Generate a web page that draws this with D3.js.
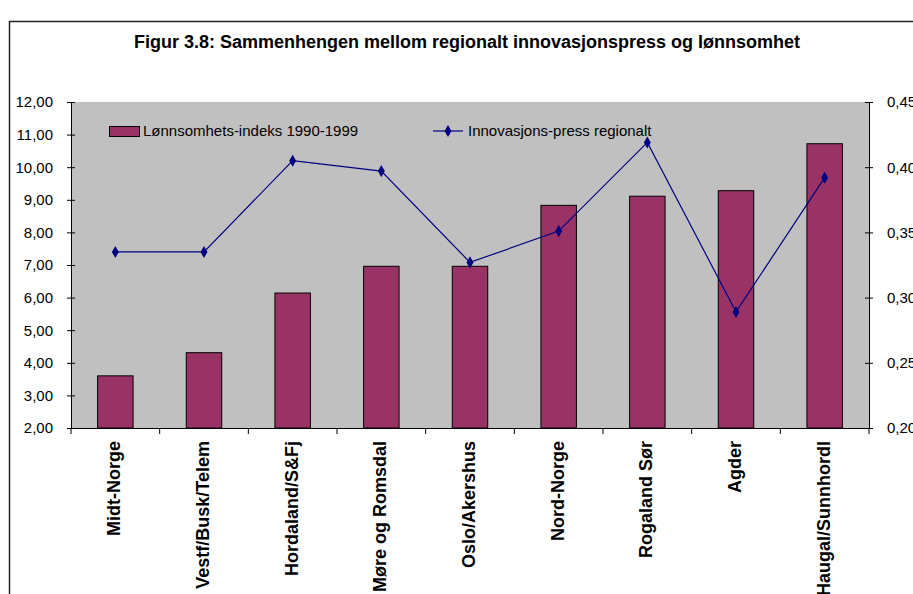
<!DOCTYPE html>
<html>
<head>
<meta charset="utf-8">
<script src="https://cdn.jsdelivr.net/npm/d3@7"></script>
<style>
  html, body { margin: 0; padding: 0; background: #fff; }
  svg { display: block; font-family: "Liberation Sans", Arial, sans-serif; }
</style>
</head>
<body>
<svg id="chart" width="913" height="594"></svg>
<script>
const categories = ["Midt-Norge", "Vestf/Busk/Telem", "Hordaland/S&Fj", "Møre og Romsdal", "Oslo/Akershus", "Nord-Norge", "Rogaland Sør", "Agder", "Haugal/Sunnhordl"];
const lonnsomhet = [3.60, 4.31, 6.14, 6.96, 6.96, 8.83, 9.11, 9.28, 10.72];
const innovasjon = [0.335, 0.335, 0.405, 0.397, 0.327, 0.351, 0.419, 0.289, 0.392];
const leftTicks = [2, 3, 4, 5, 6, 7, 8, 9, 10, 11, 12];
const rightTicks = [0.20, 0.25, 0.30, 0.35, 0.40, 0.45];
const titleText = "Figur 3.8: Sammenhengen mellom regionalt innovasjonspress og lønnsomhet";
const seriesNames = ["Lønnsomhets-indeks 1990-1999", "Innovasjons-press regionalt"];

const svg = d3.select("#chart");
const plot = { left: 71, right: 869, top: 102, bottom: 428 };
const barColor = "#993366", lineColor = "#000080", plotBg = "#C0C0C0";

// outer frame
svg.append("rect").attr("x", 9.5).attr("y", 21.5).attr("width", 930).attr("height", 600)
  .attr("fill", "#fff").attr("stroke", "#222").attr("stroke-width", 1.5);

// title
svg.append("text").attr("x", 467).attr("y", 48).attr("text-anchor", "middle")
  .attr("font-size", 18).attr("font-weight", "bold").text(titleText);

const x = d3.scaleBand().domain(categories).range([plot.left, plot.right]).padding(0);
const yL = d3.scaleLinear().domain([2, 12]).range([plot.bottom, plot.top]);
const yR = d3.scaleLinear().domain([0.20, 0.45]).range([plot.bottom, plot.top]);

// plot area
svg.append("rect").attr("x", plot.left).attr("y", plot.top)
  .attr("width", plot.right - plot.left).attr("height", plot.bottom - plot.top)
  .attr("fill", plotBg);

// bars
const barW = x.bandwidth() * 0.4;
svg.append("g").selectAll("rect").data(categories).join("rect")
  .attr("x", d => x(d) + x.bandwidth() / 2 - barW / 2)
  .attr("y", (d, i) => yL(lonnsomhet[i]))
  .attr("width", barW)
  .attr("height", (d, i) => yL(2) - yL(lonnsomhet[i]))
  .attr("fill", barColor).attr("stroke", "#000").attr("stroke-width", 1);

// line
const line = d3.line().x((d, i) => x(categories[i]) + x.bandwidth() / 2).y(d => yR(d));
svg.append("path").datum(innovasjon).attr("d", line)
  .attr("fill", "none").attr("stroke", lineColor).attr("stroke-width", 1.2);
const diamond = d3.symbol(d3.symbolDiamond, 42);
svg.append("g").selectAll("path").data(innovasjon).join("path")
  .attr("transform", (d, i) => `translate(${x(categories[i]) + x.bandwidth() / 2},${yR(d)})`)
  .attr("d", diamond).attr("fill", lineColor);

// axes
const fmt = d3.formatLocale({ decimal: ",", thousands: " ", grouping: [3], currency: ["", ""] });
const leftAxis = d3.axisLeft(yL).tickValues(leftTicks).tickFormat(fmt.format(".2f")).tickSizeInner(4).tickSizeOuter(0).tickPadding(14);
const gL = svg.append("g").attr("transform", `translate(${plot.left},0)`).call(leftAxis);
const rightAxis = d3.axisRight(yR).tickValues(rightTicks).tickFormat(fmt.format(".2f")).tickSizeInner(4).tickSizeOuter(0).tickPadding(14);
const gR = svg.append("g").attr("transform", `translate(${plot.right},0)`).call(rightAxis);
[gL, gR].forEach(g => {
  g.select(".domain").attr("stroke", "#000");
  g.selectAll(".tick line").attr("stroke", "#000").attr("x1", -4).attr("x2", 4);
  g.selectAll(".tick text").attr("font-size", 15).attr("font-family", "Liberation Sans, Arial, sans-serif").attr("fill", "#000");
});

const bottomAxis = d3.axisBottom(x).tickValues([]).tickSizeOuter(0);
const gB = svg.append("g").attr("transform", `translate(0,${plot.bottom})`).call(bottomAxis);
gB.select(".domain").attr("stroke", "#000");
const boundaries = categories.map(c => x(c)).concat([plot.right]);
gB.selectAll(".bt").data(boundaries).join("line").attr("class", "bt")
  .attr("x1", d => d).attr("x2", d => d).attr("y1", 0).attr("y2", 6).attr("stroke", "#000");

// category labels
svg.append("g").selectAll("text").data(categories).join("text")
  .attr("transform", d => `translate(${x(d) + x.bandwidth() / 2 + 5},441) rotate(-90)`)
  .attr("text-anchor", "end").attr("font-size", 18).attr("font-weight", "bold").text(d => d);

// legend
const lg = svg.append("g");
lg.append("rect").attr("x", 109.5).attr("y", 126.5).attr("width", 30).attr("height", 10)
  .attr("fill", barColor).attr("stroke", "#000");
lg.append("text").attr("x", 143).attr("y", 136).attr("font-size", 15).text(seriesNames[0]);
lg.append("line").attr("x1", 433).attr("x2", 463).attr("y1", 131).attr("y2", 131)
  .attr("stroke", lineColor).attr("stroke-width", 1.2);
lg.append("path").attr("transform", "translate(448,131)").attr("d", diamond).attr("fill", lineColor);
lg.append("text").attr("x", 468).attr("y", 136).attr("font-size", 15).text(seriesNames[1]);
</script>
</body>
</html>
